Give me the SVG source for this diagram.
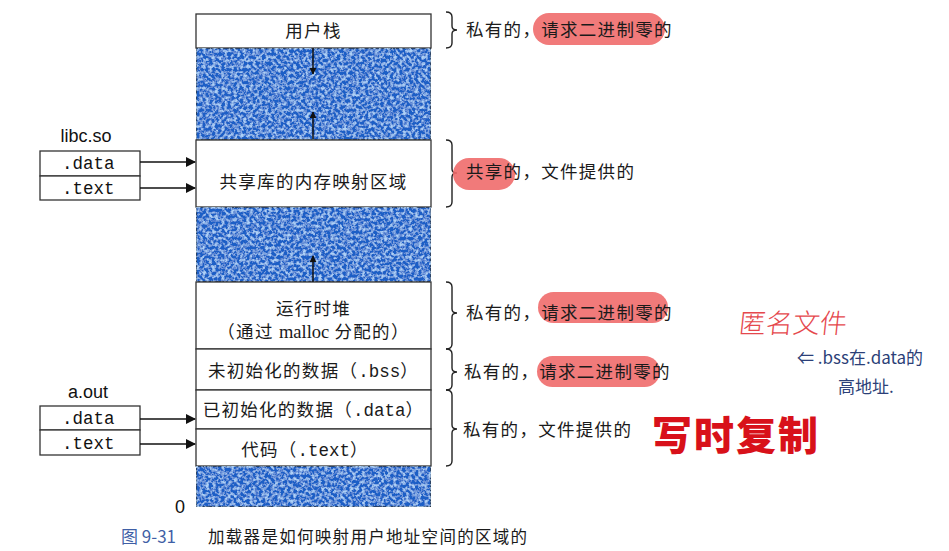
<svg xmlns="http://www.w3.org/2000/svg" width="949" height="551" viewBox="0 0 949 551">
<style>
.cj{font-family:"Noto Sans CJK SC","Noto Sans",sans-serif;font-size:17.5px;fill:#1a1a1a;letter-spacing:1.3px}
.mono{font-family:"Liberation Mono","DejaVu Sans Mono",monospace;letter-spacing:0}
.ser{font-family:"Liberation Serif","Times New Roman",serif;letter-spacing:0}
.lbl{font-family:"Liberation Sans",Arial,sans-serif;font-size:18px;fill:#111}
.box{fill:#fff;stroke:#333;stroke-width:1.3}
.blue{fill:#1f5fc6;stroke:#333;stroke-width:1.3}
.br{fill:none;stroke:#222;stroke-width:1.4}
.ln{stroke:#111;stroke-width:1.5;fill:none}
.pill{fill:#ef6c6c;opacity:0.9}
</style>
<defs>
<filter id="speck" x="0" y="0" width="100%" height="100%">
<feTurbulence type="fractalNoise" baseFrequency="0.32" numOctaves="3" seed="7" result="n"/>
<feColorMatrix in="n" type="matrix" values="0 0 0 0 0.42  0 0 0 0 0.64  0 0 0 0 0.93  3 0 0 0 -1.25" result="s"/>
<feComposite in="s" in2="SourceGraphic" operator="in" result="s2"/>
<feMerge><feMergeNode in="SourceGraphic"/><feMergeNode in="s2"/></feMerge>
</filter>
<marker id="ah" viewBox="0 0 10 10" refX="9" refY="5" markerWidth="7" markerHeight="7" orient="auto" markerUnits="userSpaceOnUse">
<path d="M0,0 L10,5 L0,10 z" fill="#111"/>
</marker>
<marker id="ah2" viewBox="0 0 10 10" refX="9" refY="5" markerWidth="11" markerHeight="10" orient="auto" markerUnits="userSpaceOnUse">
<path d="M0,0 L10,5 L0,10 z" fill="#111"/>
</marker>
</defs>

<rect width="949" height="551" fill="#fff"/>

<g id="column">
<g id="user-stack"><rect class="box" x="196" y="14" width="235" height="34"/><text class="cj" x="313.5" y="37" text-anchor="middle">用户栈</text></g>
<rect id="gap1" class="blue" x="196" y="48" width="235" height="92" filter="url(#speck)"/>
<g id="shared-lib"><rect class="box" x="196" y="140" width="235" height="67"/><text class="cj" x="313.5" y="188" text-anchor="middle">共享库的内存映射区域</text></g>
<rect id="gap2" class="blue" x="196" y="207" width="235" height="75" filter="url(#speck)"/>
<g id="heap"><rect class="box" x="196" y="282" width="235" height="67"/><text class="cj" x="313.5" y="315" text-anchor="middle">运行时堆</text><text class="cj" x="313.5" y="338" text-anchor="middle">（通过 <tspan class="ser" font-size="18.5">malloc</tspan> 分配的）</text></g>
<g id="bss"><rect class="box" x="196" y="349" width="235" height="41"/><text class="cj" x="313.5" y="377" text-anchor="middle">未初始化的数据（<tspan class="mono">.bss</tspan>）</text></g>
<g id="data"><rect class="box" x="196" y="390" width="235" height="39"/><text class="cj" x="313.5" y="416" text-anchor="middle">已初始化的数据（<tspan class="mono">.data</tspan>）</text></g>
<g id="text-seg"><rect class="box" x="196" y="429" width="235" height="37"/><text class="cj" x="305" y="456" text-anchor="middle">代码（<tspan class="mono">.text</tspan>）</text></g>
<rect id="gap3" class="blue" x="196" y="466" width="235" height="41" filter="url(#speck)"/>
<text class="lbl" x="180" y="513" font-size="15" text-anchor="middle">0</text>
</g>

<g id="libc">
<text class="lbl" x="86" y="142" text-anchor="middle">libc.so</text>
<rect class="box" x="40" y="151" width="100" height="25"/>
<rect class="box" x="40" y="176" width="100" height="24"/>
<text class="mono" x="62" y="169" font-size="17.5" fill="#111">.data</text>
<text class="mono" x="62" y="194" font-size="17.5" fill="#111">.text</text>
</g>

<g id="aout">
<text class="lbl" x="88" y="398" text-anchor="middle">a.out</text>
<rect class="box" x="40" y="406" width="100" height="24"/>
<rect class="box" x="40" y="430" width="100" height="25"/>
<text class="mono" x="62" y="424" font-size="17.5" fill="#111">.data</text>
<text class="mono" x="62" y="449" font-size="17.5" fill="#111">.text</text>
</g>

<g id="connectors">
<line class="ln" x1="140" y1="162" x2="195" y2="162" marker-end="url(#ah2)"/>
<line class="ln" x1="140" y1="188" x2="195" y2="188" marker-end="url(#ah2)"/>
<line class="ln" x1="140" y1="419" x2="195" y2="419" marker-end="url(#ah2)"/>
<line class="ln" x1="140" y1="444" x2="195" y2="444" marker-end="url(#ah2)"/>
<line class="ln" x1="313" y1="48" x2="313" y2="74" marker-end="url(#ah)"/>
<line class="ln" x1="313" y1="139" x2="313" y2="112" marker-end="url(#ah)"/>
<line class="ln" x1="313" y1="282" x2="313" y2="256" marker-end="url(#ah)"/>
</g>

<g id="braces">
<path class="br" d="M446,12 Q452,12 452,17 L452,26 Q452,30 457,30 Q452,30 452,34 L452,43 Q452,48 446,48"/>
<path class="br" d="M446,140 Q452,140 452,145 L452,169 Q452,173 457,173 Q452,173 452,177 L452,202 Q452,207 446,207"/>
<path class="br" d="M446,282 Q452,282 452,287 L452,309 Q452,313 457,313 Q452,313 452,317 L452,344 Q452,349 446,349"/>
<path class="br" d="M446,349 Q452,349 452,354 L452,368 Q452,372 457,372 Q452,372 452,376 L452,385 Q452,390 446,390"/>
<path class="br" d="M446,390 Q452,390 452,395 L452,425 Q452,429 457,429 Q452,429 452,433 L452,461 Q452,466 446,466"/>
</g>

<g id="notes">
<rect class="pill" x="533" y="13" width="132" height="32" rx="16"/>
<text class="cj" x="466" y="36" letter-spacing="1.4">私有的，请求二进制零的</text>
<rect class="pill" x="453" y="158" width="62" height="32" rx="16"/>
<text class="cj" x="466" y="178" letter-spacing="1.4">共享的，文件提供的</text>
<rect class="pill" x="538" y="292" width="130" height="31" rx="15.5"/>
<text class="cj" x="466" y="319" letter-spacing="1.4">私有的，请求二进制零的</text>
<rect class="pill" x="537" y="356" width="123" height="31" rx="15.5"/>
<text class="cj" x="464" y="378" letter-spacing="1.4">私有的，请求二进制零的</text>
<text class="cj" x="463" y="436" letter-spacing="1.4">私有的，文件提供的</text>
</g>

<g id="handwriting">
<text x="738" y="333" font-family="Noto Sans CJK SC,sans-serif" font-size="27" font-weight="300" fill="#e5484d" transform="skewX(-6)" transform-origin="738 333">匿名文件</text>
<text x="797" y="364" font-family="Noto Sans CJK SC,sans-serif" font-size="17" fill="#2c3f78">⇐ .bss在.data的</text>
<text x="838" y="393" font-family="Noto Sans CJK SC,sans-serif" font-size="17" fill="#2c3f78">高地址.</text>
<text x="652" y="450" font-family="Noto Sans CJK SC,sans-serif" font-size="40" font-weight="900" fill="#d8111a" letter-spacing="2">写时复制</text>
</g>

<g id="caption">
<text x="121" y="543" font-family="Noto Sans CJK SC,sans-serif" font-size="17" fill="#3f5fa6">图 9-31</text>
<text x="208" y="543" font-family="Noto Sans CJK SC,sans-serif" font-size="16.5" fill="#1a1a1a" letter-spacing="1.3">加载器是如何映射用户地址空间的区域的</text>
</g>
</svg>
